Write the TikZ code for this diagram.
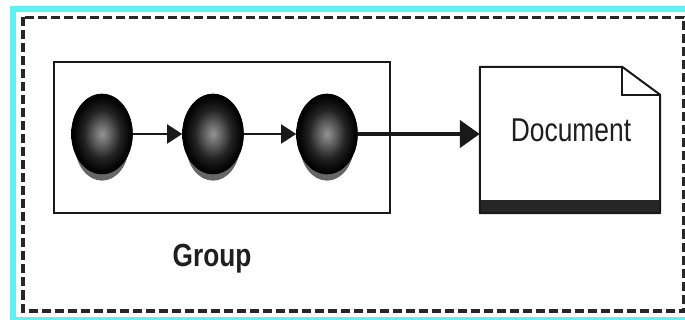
\documentclass[tikz,border=0pt]{standalone}
\usepackage{fontspec}
\setmainfont{Liberation Sans}
\usetikzlibrary{shapes.geometric,shadows,arrows.meta}
\pgfdeclareradialshading{sphere}{\pgfpoint{0bp}{0bp}}{color(0bp)=(black!42); color(7bp)=(black!62); color(15bp)=(black!86); color(22bp)=(black!97); color(25bp)=(black); color(50bp)=(black)}
\definecolor{framecyan}{RGB}{96,242,242}
\begin{document}
\begin{tikzpicture}[x=1pt,y=-1pt,
    ball/.style={ellipse,draw=black,line width=0.6pt,minimum width=61pt,minimum height=80pt,inner sep=0pt,
      shading=sphere,drop shadow={shadow xshift=0pt,shadow yshift=-13pt,shadow scale=0.88,fill=black!60,opacity=1}},
    arr/.style={line width=1.8pt,draw=black!90,-{Triangle[length=15pt,width=19pt]}},
    bigarr/.style={line width=4.5pt,draw=black!90,-{Triangle[length=20pt,width=27pt]}},
    lbl/.style={text=black!88,font=\fontsize{33}{36}\selectfont}]
        \useasboundingbox (0,0) rectangle (685,320);
        \fill[white] (0,0) rectangle (685,320);
        \draw[framecyan,line width=6pt] (13,9.5) rectangle (700,320);
        \draw[black!85,line width=3.2pt,dash pattern=on 9pt off 4pt] (23,17.5) rectangle (684,311);
        \draw (222,137.5) node[draw=black!90,line width=2pt,minimum width=336pt,minimum height=151pt](grp){};
        \draw (102,134) node[ball](s1){};
        \draw (213,134) node[ball](s2){};
        \draw (327,134) node[ball](s3){};
        \draw (570,140) node[minimum width=180pt,minimum height=146pt,inner sep=0pt](doc){};
        \draw (571,130) node[lbl](doctxt){\scalebox{0.8}[1]{Document}};
        \draw (212,259) node[lbl,font=\fontsize{32}{35}\selectfont\bfseries](grplbl){\scalebox{0.82}[1]{Group}};
        \draw[arr] (s1) -- (s2);
        \draw[arr] (s2) -- (s3);
        \draw[bigarr] (s3) -- (s3 -| doc.west);
        % document page with folded corner
        \fill[black!85] ([yshift=13pt]doc.south west) rectangle (doc.south east);
        \draw[black!90,line width=2pt,line join=round]
          (doc.north west) -- ([xshift=-38pt]doc.north east) -- ([yshift=-28pt]doc.north east)
          -- (doc.south east) -- (doc.south west) -- cycle;
        \draw[black!90,line width=1.6pt] ([xshift=-38pt]doc.north east) |- ([yshift=-28pt]doc.north east);
      \end{tikzpicture}
\end{document}
